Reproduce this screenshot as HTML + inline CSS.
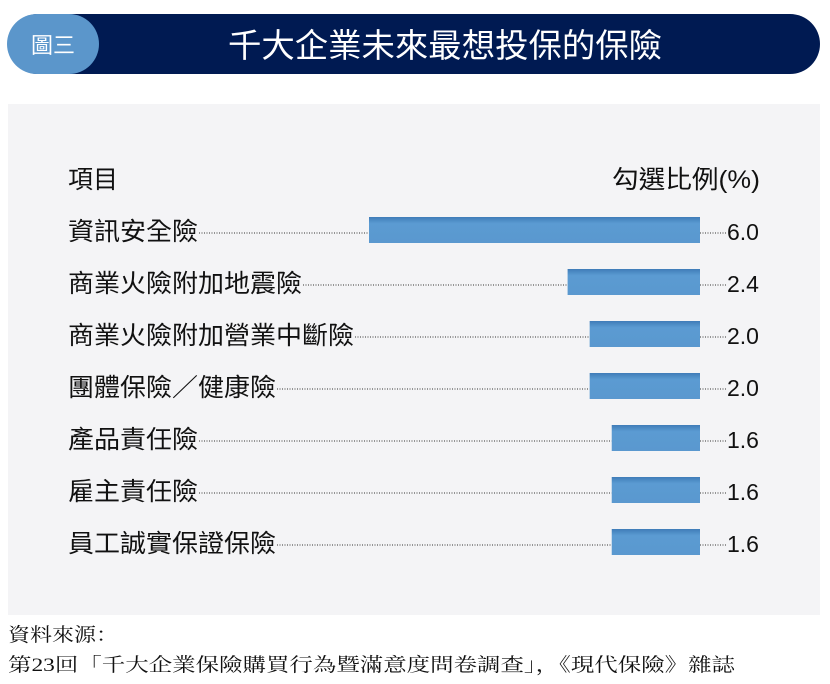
<!DOCTYPE html>
<html><head><meta charset="utf-8"><style>
body{margin:0;width:830px;height:684px;background:#fff;overflow:hidden;font-family:"Liberation Sans","Noto Sans CJK TC",sans-serif}
</style></head><body>
<svg width="830" height="684" style="position:absolute;left:0;top:0">
<defs><linearGradient id="bg" x1="0" y1="0" x2="0" y2="1"><stop offset="0" stop-color="#3f7cb8"/><stop offset="0.25" stop-color="#5b9bd2"/><stop offset="1" stop-color="#5a98cf"/></linearGradient></defs>
<rect x="8" y="14" width="812" height="60" rx="30" fill="#001a52"/>
<rect x="7" y="14" width="92" height="60" rx="30" fill="#5b96cb"/>
<text x="53" y="53" font-size="22" fill="#fff" text-anchor="middle">圖三</text>
<text x="228" y="57" font-size="33" fill="#fff" textLength="434" lengthAdjust="spacingAndGlyphs">千大企業未來最想投保的保險</text>
<rect x="8" y="104" width="812" height="511" fill="#f4f4f6"/>
<text x="68" y="188" font-size="25" fill="#111">項目</text>
<text x="612" y="188" font-size="25" fill="#111" textLength="148" lengthAdjust="spacingAndGlyphs">勾選比例(%)</text>
<g id="bars"></g>
<text x="8" y="641" font-size="19" fill="#111" font-family="Liberation Serif,Noto Serif CJK SC,serif" textLength="110" lengthAdjust="spacingAndGlyphs">資料來源：</text>
<text x="8" y="671" font-size="19" fill="#111" font-family="Liberation Serif,Noto Serif CJK SC,serif" textLength="727" lengthAdjust="spacingAndGlyphs">第23回「千大企業保險購買行為暨滿意度問卷調查」，《現代保險》雜誌</text>
</svg>
<script>
const categories=["資訊安全險","商業火險附加地震險","商業火險附加營業中斷險","團體保險／健康險","產品責任險","雇主責任險","員工誠實保證保險"];
const values=[6.0,2.4,2.0,2.0,1.6,1.6,1.6];
const labels=["6.0","2.4","2.0","2.0","1.6","1.6","1.6"];
const g=document.getElementById('bars');
const NS='http://www.w3.org/2000/svg';
const xEnd=700, scale=331/6;
function x(v){return xEnd-v*scale;}
function y(i){return 231+i*52;}
function mk(t,a){const e=document.createElementNS(NS,t);for(const k in a)e.setAttribute(k,a[k]);g.appendChild(e);return e;}
categories.forEach((c,i)=>{
  const w=c.length*26;
  const t=mk('text',{x:68,y:y(i)+9,'font-size':25,fill:'#111',textLength:w,lengthAdjust:'spacingAndGlyphs'});
  t.textContent=c;
  
  
  const l=mk('line',{x1:68+w+1,x2:x(values[i]),y1:y(i)+2,y2:y(i)+2,stroke:'#333','stroke-width':1,'stroke-dasharray':'1 1.5'});
  
  
  const r=mk('rect',{x:x(values[i]),y:y(i)-14,width:values[i]*scale,height:26,fill:'url(#bg)'});
  
  
  const l2=mk('line',{x1:xEnd,x2:727,y1:y(i)+2,y2:y(i)+2,stroke:'#333','stroke-width':1,'stroke-dasharray':'1 1.5'});
  
  
  const v=mk('text',{x:727,y:y(i)+9,'font-size':23,fill:'#111'});
  v.textContent=labels[i];
  
  
});
</script>
</body></html>
